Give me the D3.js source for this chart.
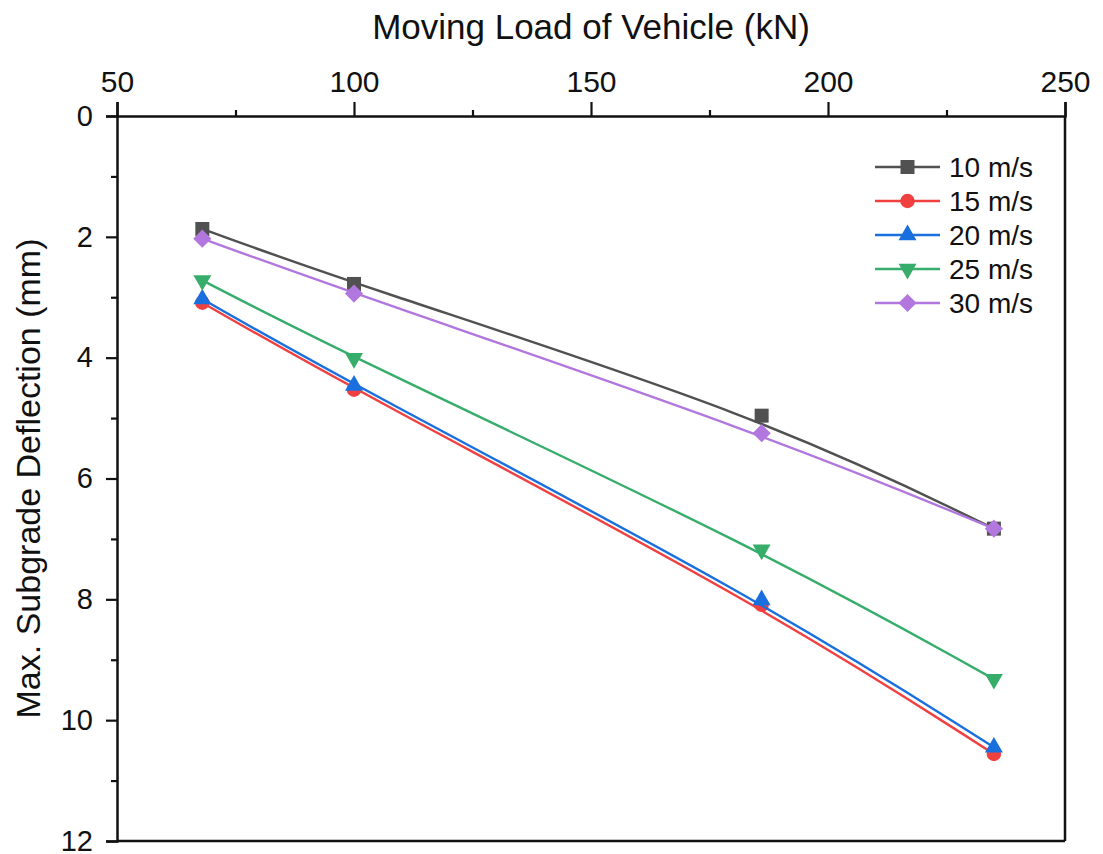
<!DOCTYPE html>
<html>
<head>
<meta charset="utf-8">
<script src="https://cdn.jsdelivr.net/npm/d3@7"></script>
<style>
  html, body { margin: 0; padding: 0; background: #fff; }
  svg { display: block; font-family: "Liberation Sans", Arial, sans-serif; }
</style>
</head>
<body>
<svg id="chart" width="1103" height="854"></svg>
<script>
// Vehicle load (kN) on the x axis
const loads = [68, 100, 186, 235];

// Maximum subgrade deflection (mm) for each vehicle speed
const speedLabels = ["10 m/s", "15 m/s", "20 m/s", "25 m/s", "30 m/s"];
const defl10 = [1.87, 2.78, 4.96, 6.83];
const defl15 = [3.09, 4.53, 8.09, 10.56];
const defl20 = [3.03, 4.46, 8.01, 10.45];
const defl25 = [2.72, 4.01, 7.18, 9.32];
const defl30 = [2.03, 2.94, 5.25, 6.83];

const xTicks = [50, 100, 150, 200, 250];
const yTicks = [0, 2, 4, 6, 8, 10, 12];

const seriesValues = [defl10, defl15, defl20, defl25, defl30];
const colors = ["#515151", "#F14040", "#1A6FDF", "#37AD6B", "#B177DE"];
const shapes = ["square", "circle", "triUp", "triDown", "diamond"];

const svg = d3.select("#chart");
const plotLeft = 117, plotRight = 1065, plotTop = 116, plotBottom = 841;

const x = d3.scaleLinear().domain([50, 250]).range([plotLeft, plotRight]);
const y = d3.scaleLinear().domain([0, 12]).range([plotTop, plotBottom]);

// marker path builder
function markerPath(shape) {
  switch (shape) {
    case "square": return d3.symbol(d3.symbolSquare, 196)();
    case "circle": return d3.symbol(d3.symbolCircle, 165)();
    case "triUp": return d3.symbol(d3.symbolTriangle, 140)();
    case "triDown": return d3.symbol(d3.symbolTriangle, 140)();
    case "diamond": return d3.symbol(d3.symbolSquare, 165)();
  }
}
function markerTransform(shape, px, py) {
  if (shape === "triDown") return `translate(${px},${py}) rotate(180)`;
  if (shape === "diamond") return `translate(${px},${py}) rotate(45)`;
  return `translate(${px},${py})`;
}

// plot frame: right and bottom edges
svg.append("line").attr("x1", plotRight).attr("x2", plotRight).attr("y1", plotTop).attr("y2", plotBottom)
  .attr("stroke", "#111").attr("stroke-width", 2.5);
svg.append("line").attr("x1", plotLeft).attr("x2", plotRight).attr("y1", plotBottom).attr("y2", plotBottom)
  .attr("stroke", "#111").attr("stroke-width", 2.5);

// series lines and markers
const line = d3.line().x(d => x(d[0])).y(d => y(d[1])).curve(d3.curveBasis);
seriesValues.forEach((vals, i) => {
  const pts = loads.map((l, j) => [l, vals[j]]);
  const g = svg.append("g");
  g.append("path").attr("d", line(pts)).attr("fill", "none")
    .attr("stroke", colors[i]).attr("stroke-width", 2.4);
  g.selectAll("path.m").data(pts).join("path").attr("class", "m")
    .attr("d", markerPath(shapes[i]))
    .attr("transform", d => markerTransform(shapes[i], x(d[0]), y(d[1])))
    .attr("fill", colors[i]);
});

// top x axis
const xAxis = d3.axisTop(x).tickValues(xTicks).tickSize(14).tickPadding(10).tickFormat(d3.format("d"));
const gx = svg.append("g").attr("transform", `translate(0,${plotTop})`).call(xAxis);
gx.select(".domain").attr("stroke", "#111").attr("stroke-width", 2.5);
gx.selectAll(".tick line").attr("stroke", "#111").attr("stroke-width", 2.2);
gx.selectAll(".tick text").attr("font-size", 30).attr("fill", "#111")
  .attr("font-family", "Liberation Sans, Arial, sans-serif");
svg.append("g").attr("transform", `translate(0,${plotTop})`)
  .call(d3.axisTop(x).tickValues([75, 125, 175, 225]).tickSize(6).tickFormat(""))
  .call(g => g.select(".domain").remove())
  .selectAll("line").attr("stroke", "#111").attr("stroke-width", 2.2);

// left y axis
const yAxis = d3.axisLeft(y).tickValues(yTicks).tickSize(11).tickPadding(13).tickFormat(d3.format("d"));
const gy = svg.append("g").attr("transform", `translate(${plotLeft},0)`).call(yAxis);
gy.select(".domain").attr("stroke", "#111").attr("stroke-width", 2.5);
gy.selectAll(".tick line").attr("stroke", "#111").attr("stroke-width", 2.2);
gy.selectAll(".tick text").attr("font-size", 29).attr("fill", "#111")
  .attr("font-family", "Liberation Sans, Arial, sans-serif");
svg.append("g").attr("transform", `translate(${plotLeft},0)`)
  .call(d3.axisLeft(y).tickValues([1, 3, 5, 7, 9, 11]).tickSize(6).tickFormat(""))
  .call(g => g.select(".domain").remove())
  .selectAll("line").attr("stroke", "#111").attr("stroke-width", 2.2);

// axis titles
svg.append("text").attr("x", 591).attr("y", 39)
  .attr("text-anchor", "middle").attr("font-size", 35).attr("fill", "#111")
  .text("Moving Load of Vehicle (kN)");
svg.append("text").attr("transform", `translate(40,${(plotTop + plotBottom) / 2}) rotate(-90)`)
  .attr("text-anchor", "middle").attr("font-size", 34).attr("fill", "#111")
  .text("Max. Subgrade Deflection (mm)");

// legend
const legend = svg.append("g");
speedLabels.forEach((lab, i) => {
  const ly = 167 + i * 34;
  legend.append("line").attr("x1", 875).attr("x2", 940).attr("y1", ly).attr("y2", ly)
    .attr("stroke", colors[i]).attr("stroke-width", 2.4);
  legend.append("path").attr("d", markerPath(shapes[i]))
    .attr("transform", markerTransform(shapes[i], 907.5, ly)).attr("fill", colors[i]);
  legend.append("text").attr("x", 949).attr("y", ly).attr("dy", "0.35em")
    .attr("font-size", 28).attr("fill", "#111").text(lab);
});
</script>
</body>
</html>
